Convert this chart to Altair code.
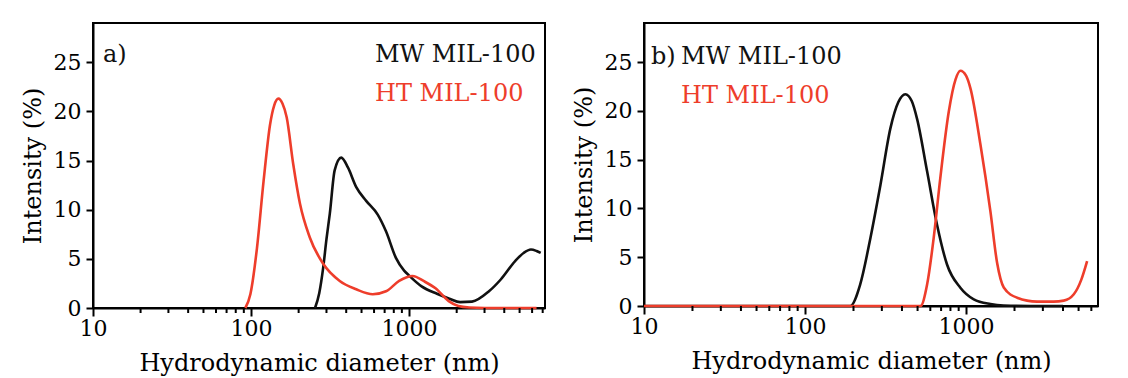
import altair as alt
import pandas as pd

FONT = "DejaVu Serif"
BLACK = "#111111"
RED = "#EE3D2B"

# ---------- data ----------
# panel a) MW MIL-100
a_mw_d = [254, 270, 286, 300, 315, 338, 372, 410, 463, 535, 633, 714, 825, 930, 1000,
          1200, 1500, 1800, 2100, 2500, 3200, 3800, 4700, 5300, 5900, 6400, 6800]
a_mw_i = [0, 1.5, 4.1, 7.0, 9.6, 14.0, 15.3, 14.3, 12.3, 10.9, 9.5, 7.8, 5.1, 3.8, 3.3,
          2.2, 1.45, 0.95, 0.6, 0.65, 1.7, 2.9, 4.8, 5.6, 5.95, 5.8, 5.6]
# panel a) HT MIL-100
a_ht_d = [92, 99, 109, 120, 132, 140, 149, 158, 168, 185, 204, 235, 286, 364, 463, 589,
          714, 865, 1050, 1250, 1470, 1780, 2050, 2400, 3000, 6400]
a_ht_i = [0, 1.4, 6.1, 12.9, 18.7, 20.6, 21.3, 20.8, 19.4, 14.6, 10.6, 7.2, 4.5, 2.75, 1.9, 1.4,
          1.7, 2.75, 3.25, 2.7, 2.0, 0.7, 0.2, 0.05, 0, 0]
# panel b) MW MIL-100
b_mw_d = [10, 191, 220, 255, 294, 339, 380, 420, 460, 496, 573, 661, 762, 922, 1117, 1417,
          1710, 2500, 4000]
b_mw_i = [0, 0, 2.2, 7.0, 12.4, 18.2, 20.9, 21.7, 21.0, 19.2, 13.8, 8.3, 4.25, 1.87, 0.68, 0.2,
          0.05, 0, 0]
# panel b) HT MIL-100
b_ht_d = [10, 500, 521, 573, 630, 692, 781, 860, 923, 1000, 1065, 1230, 1417, 1560, 1715,
          2075, 2763, 3500, 4045, 4670, 5200, 5650]
b_ht_i = [0, 0, 0, 2.2, 7.0, 13.1, 19.9, 23.2, 24.1, 23.6, 22.3, 16.5, 9.7, 4.4, 1.9,
          0.85, 0.45, 0.45, 0.55, 1.2, 2.7, 4.6]

panel_labels = ["a)", "b)"]
series_names = ["MW MIL-100", "HT MIL-100"]
y_ticks = [0, 5, 10, 15, 20, 25]
x_major = [10, 100, 1000]
x_minor = [m * 10 ** k for k in (1, 2, 3) for m in range(2, 10)]
x_title = "Hydrodynamic diameter (nm)"
y_title = "Intensity (%)"


def panel(mw_d, mw_i, ht_d, ht_i, xmax, label, lab_x, leg_x, leg_y1, leg_y2, w, h):
    xaxis = alt.Axis(
        values=x_major, format="d", title=x_title, ticks=True, tickSize=8,
        labelOverlap=False, labelFlush=False, labelPadding=2, titlePadding=12,
    )
    yaxis = alt.Axis(values=y_ticks, title=y_title, ticks=True, tickSize=7,
                     labelPadding=5, titlePadding=8)
    xs = alt.Scale(type="log", domain=[10, xmax], nice=False)
    x = alt.X("d:Q", scale=xs, axis=xaxis)
    y = alt.Y("i:Q", scale=alt.Scale(domain=[0, 29], nice=False), axis=yaxis)
    minor = alt.Chart(pd.DataFrame({"d": [v for v in x_minor if v <= xmax]})).mark_rule(
        color="black", strokeWidth=2).encode(
        x=alt.X("d:Q", scale=xs, axis=xaxis),
        y=alt.value(h), y2=alt.value(h + 5))
    mw = alt.Chart(pd.DataFrame({"d": mw_d, "i": mw_i})).mark_line(
        color=BLACK, strokeWidth=2.6, interpolate="monotone").encode(x=x, y=y)
    ht = alt.Chart(pd.DataFrame({"d": ht_d, "i": ht_i})).mark_line(
        color=RED, strokeWidth=2.6, interpolate="monotone").encode(x=x, y=y)
    t_lab = alt.Chart(pd.DataFrame({"t": [label]})).mark_text(
        font=FONT, fontSize=24, align="left", baseline="alphabetic", color=BLACK).encode(
        text="t:N", x=alt.value(lab_x), y=alt.value(leg_y1))
    t_mw = alt.Chart(pd.DataFrame({"t": [series_names[0]]})).mark_text(
        font=FONT, fontSize=24, align="left", baseline="alphabetic", color=BLACK).encode(
        text="t:N", x=alt.value(leg_x), y=alt.value(leg_y1))
    t_ht = alt.Chart(pd.DataFrame({"t": [series_names[1]]})).mark_text(
        font=FONT, fontSize=24, align="left", baseline="alphabetic", color=RED).encode(
        text="t:N", x=alt.value(leg_x), y=alt.value(leg_y2))
    return alt.layer(mw, ht, minor, t_lab, t_mw, t_ht).properties(width=w, height=h)


left = panel(a_mw_d, a_mw_i, a_ht_d, a_ht_i, 7240, panel_labels[0], 10, 282, 39, 78, 452, 285)
right = panel(b_mw_d, b_mw_i, b_ht_d, b_ht_i, 6600, panel_labels[1], 7, 37, 41, 80, 454, 283)

chart = alt.hconcat(left, right, spacing=24).properties(
    padding={"left": 12, "top": 14, "right": 0, "bottom": 0},
    background="white",
).configure_view(
    stroke="black", strokeWidth=2
).configure_axis(
    grid=False, domainColor="black", domainWidth=2, tickColor="black", tickWidth=2,
    labelFont=FONT, labelFontSize=22, labelColor="black",
    titleFont=FONT, titleFontSize=24, titleFontWeight="normal", titleColor="black",
)

chart.save("out.html", embed_options={"renderer": "svg", "actions": False})
